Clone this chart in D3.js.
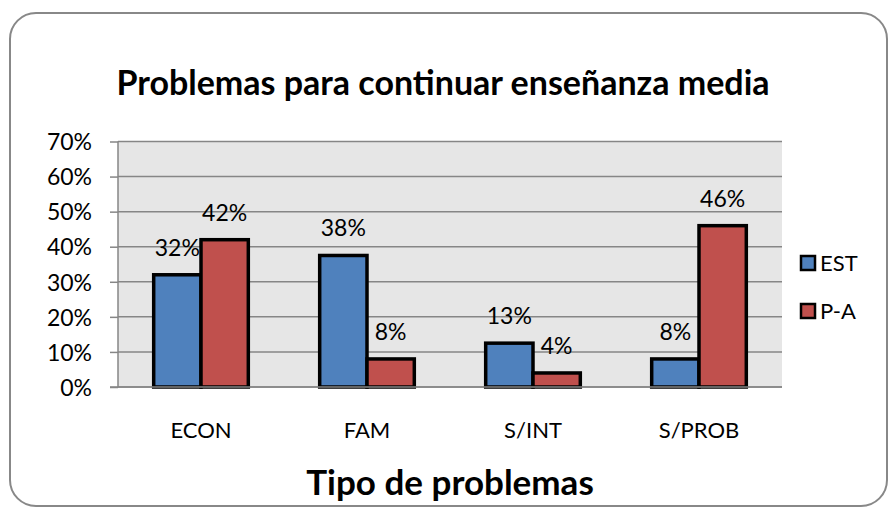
<!DOCTYPE html>
<html>
<head>
<meta charset="utf-8">
<script src="https://cdn.jsdelivr.net/npm/d3@7"></script>
<style>
  body { margin: 0; background: #fff; }
  svg text { font-family: Lato, "Open Sans", sans-serif; fill: #000; }
</style>
</head>
<body>
<div id="chart"></div>
<script>
const categories = ["ECON", "FAM", "S/INT", "S/PROB"];
const seriesNames = ["EST", "P-A"];
const estValues = [0.32, 0.375, 0.125, 0.08];
const paValues = [0.42, 0.08, 0.04, 0.46];
const yTicks = [0, 0.1, 0.2, 0.3, 0.4, 0.5, 0.6, 0.7];
const colors = ["#4f81bd", "#c0504d"];

const W = 890, H = 508;
const plot = { left: 118, right: 782, top: 141.5, bottom: 387 };

const svg = d3.select("#chart").append("svg")
    .attr("width", W)
    .attr("height", H);

// outer frame
svg.append("rect")
    .attr("x", 10).attr("y", 13)
    .attr("width", 877).attr("height", 493)
    .attr("rx", 26)
    .attr("fill", "#fff")
    .attr("stroke", "#888")
    .attr("stroke-width", 2);

const y = d3.scaleLinear()
    .domain([0, 0.7])
    .range([plot.bottom, plot.top]);

const x = d3.scaleBand()
    .domain(categories)
    .range([plot.left, plot.right])
    .paddingInner(0.43)
    .paddingOuter(0.215);

const xs = d3.scaleBand()
    .domain(seriesNames)
    .range([0, x.bandwidth()]);

// plot background
svg.append("rect")
    .attr("x", plot.left).attr("y", plot.top)
    .attr("width", plot.right - plot.left)
    .attr("height", plot.bottom - plot.top)
    .attr("fill", "#e6e6e6");

// y axis with gridlines
const yAxis = svg.append("g")
    .attr("transform", `translate(${plot.left},0)`)
    .call(d3.axisLeft(y).tickValues(yTicks).tickFormat(d3.format(".0%"))
        .tickSize(8).tickPadding(18));
yAxis.select(".domain").remove();
yAxis.selectAll(".tick line").attr("stroke", "#868686").attr("stroke-width", 1.5);
yAxis.selectAll("text").style("font-size", "23px").attr("dy", "0.36em");

svg.append("g").selectAll("line")
    .data(yTicks)
    .join("line")
    .attr("x1", plot.left).attr("x2", plot.right)
    .attr("y1", d => y(d)).attr("y2", d => y(d))
    .attr("stroke", "#868686")
    .attr("stroke-width", 1.5);

svg.append("line")
    .attr("x1", plot.left).attr("x2", plot.left)
    .attr("y1", plot.top).attr("y2", plot.bottom)
    .attr("stroke", "#868686")
    .attr("stroke-width", 1.5);

// bars
const rows = categories.map((c, i) => ({ cat: c, vals: [estValues[i], paValues[i]] }));

const groups = svg.append("g").selectAll("g")
    .data(rows)
    .join("g")
    .attr("transform", d => `translate(${x(d.cat)},0)`);

groups.selectAll("rect")
    .data(d => d.vals.map((v, j) => ({ name: seriesNames[j], v, j })))
    .join("rect")
    .attr("x", d => xs(d.name))
    .attr("width", xs.bandwidth())
    .attr("y", d => y(d.v))
    .attr("height", d => y(0) - y(d.v))
    .attr("fill", d => colors[d.j])
    .attr("stroke", "#000")
    .attr("stroke-width", 3.5);

groups.selectAll("text")
    .data(d => d.vals.map((v, j) => ({ name: seriesNames[j], v, j })))
    .join("text")
    .attr("x", d => xs(d.name) + xs.bandwidth() / 2)
    .attr("y", d => y(d.v) - 19)
    .attr("text-anchor", "middle")
    .style("font-size", "23px")
    .text(d => Math.round(d.v * 100) + "%");

// x axis labels
const xAxis = svg.append("g")
    .attr("transform", `translate(0,${plot.bottom})`)
    .call(d3.axisBottom(x).tickSize(0).tickPadding(35));
xAxis.select(".domain").remove();
xAxis.selectAll("text").style("font-size", "22px");

svg.append("line")
    .attr("x1", plot.left - 8).attr("x2", plot.right)
    .attr("y1", plot.bottom).attr("y2", plot.bottom)
    .attr("stroke", "#868686")
    .attr("stroke-width", 1.5);

// titles
svg.append("text")
    .attr("x", 443).attr("y", 95)
    .attr("text-anchor", "middle")
    .style("font-size", "34px")
    .style("font-weight", "bold")
    .text("Problemas para continuar enseñanza media");

svg.append("text")
    .attr("x", 450).attr("y", 495)
    .attr("text-anchor", "middle")
    .style("font-size", "35px")
    .style("font-weight", "bold")
    .text("Tipo de problemas");

// legend
const legend = svg.append("g").selectAll("g")
    .data(seriesNames)
    .join("g")
    .attr("transform", (d, i) => `translate(801,${256 + i * 48})`);

legend.append("rect")
    .attr("width", 14).attr("height", 14)
    .attr("fill", (d, i) => colors[i])
    .attr("stroke", "#000")
    .attr("stroke-width", 2.5);

legend.append("text")
    .attr("x", 19).attr("y", 7)
    .attr("dy", "0.36em")
    .style("font-size", "22px")
    .text(d => d);
</script>
</body>
</html>
